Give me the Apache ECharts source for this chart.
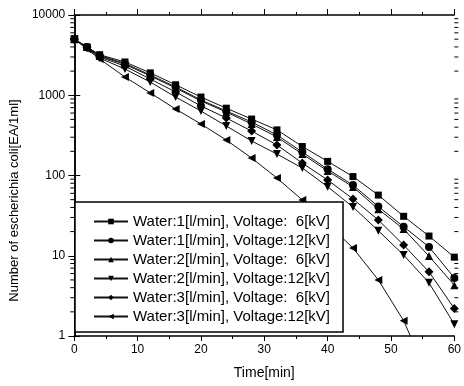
<!DOCTYPE html>
<html>
<head>
<meta charset="utf-8">
<script src="https://cdn.jsdelivr.net/npm/echarts@6/dist/echarts.min.js"></script>
<style>
  html, body { margin: 0; padding: 0; background: #fff; }
  #chart { width: 464px; height: 386px; }
</style>
</head>
<body>
<div id="chart"></div>
<script>
// sampling times [min]
const times = [0, 2, 4, 8, 12, 16, 20, 24, 28, 32, 36, 40, 44, 48, 52, 56, 60];

// colony counts [EA/1ml]
const water1kv6 = [5000, 4000, 3200, 2600, 1900, 1350, 950, 690, 505, 370, 230, 150, 97, 57, 31, 17.6, 9.6];
const water1kv12 = [5000, 4000, 3130, 2490, 1790, 1270, 873, 636, 464, 320, 196, 120, 76, 41, 23, 12.9, 5.3];
const water2kv6 = [5000, 4000, 3080, 2420, 1740, 1230, 848, 618, 438, 302, 185, 114, 72, 38, 21.5, 9.9, 4.3];
const water2kv12 = [5000, 3880, 2910, 2120, 1460, 950, 636, 414, 269, 185, 124, 72.5, 40.5, 20.5, 10.2, 4.6, 1.4];
const water3kv6 = [5000, 3940, 3000, 2310, 1590, 1100, 735, 520, 358, 240, 143, 88, 51, 27.9, 13.6, 6.3, 2.2];
const water3kv12 = [5000, 3770, 2830, 1690, 1070, 674, 438, 277, 165, 93, 49.5, 24.9, 12.5, 5, 1.55, 0.3, null];

const seriesNames = [
  "Water:1[l/min], Voltage:  6[kV]",
  "Water:1[l/min], Voltage:12[kV]",
  "Water:2[l/min], Voltage:  6[kV]",
  "Water:2[l/min], Voltage:12[kV]",
  "Water:3[l/min], Voltage:  6[kV]",
  "Water:3[l/min], Voltage:12[kV]",
];

// minor ticks of the log axis (2..9 in each decade)
const yMinorTicks = [
  2, 3, 4, 5, 6, 7, 8, 9,
  20, 30, 40, 50, 60, 70, 80, 90,
  200, 300, 400, 500, 600, 700, 800, 900,
  2000, 3000, 4000, 5000, 6000, 7000, 8000, 9000,
];

const fontFamily = '"Liberation Sans", Arial, sans-serif';

const markers = [
  { symbol: "rect", rotate: 0, size: 7 },
  { symbol: "circle", rotate: 0, size: 8 },
  { symbol: "triangle", rotate: 0, size: 8 },
  { symbol: "triangle", rotate: 180, size: 8 },
  { symbol: "diamond", rotate: 0, size: 9 },
  { symbol: "triangle", rotate: 90, size: 8 },
];

const values = [water1kv6, water1kv12, water2kv6, water2kv12, water3kv6, water3kv12];

const lineSeries = values.map((vals, i) => ({
  name: seriesNames[i],
  type: "line",
  data: times.map((t, j) => [t, vals[j]]),
  symbol: markers[i].symbol,
  symbolRotate: markers[i].rotate,
  symbolSize: markers[i].size,
  showAllSymbol: true,
  lineStyle: { color: "#111", width: 1 },
  itemStyle: { color: "#000" },
  clip: true,
}));

const minorTickSeries = {
  type: "custom",
  silent: true,
  clip: false,
  z: 5,
  data: yMinorTicks.map((v) => [0, v]),
  encode: { x: 0, y: 1 },
  renderItem: (params, api) => {
    const v = api.value(1);
    const left = api.coord([0, v]);
    const right = api.coord([60, v]);
    const style = { stroke: "#000", lineWidth: 1 };
    return {
      type: "group",
      children: [
        { type: "line", shape: { x1: left[0] - 4, y1: left[1], x2: left[0], y2: left[1] }, style },
        { type: "line", shape: { x1: right[0], y1: right[1], x2: right[0] + 4, y2: right[1] }, style },
      ],
    };
  },
};

const axisLine = { show: true, lineStyle: { color: "#000", width: 1.5 } };

const chart = echarts.init(document.getElementById("chart"), null, { renderer: "canvas" });
chart.setOption({
  animation: false,
  backgroundColor: "#fff",
  grid: { left: 73, right: 6, top: 15, bottom: 50 },
  legend: {
    data: seriesNames,
    orient: "vertical",
    left: 75,
    top: 202,
    padding: [12, 13, 8, 18],
    itemWidth: 34,
    itemHeight: 7,
    itemGap: 4,
    backgroundColor: "#fff",
    borderColor: "#000",
    borderWidth: 1.5,
    selectedMode: false,
    textStyle: { fontFamily, fontSize: 15, color: "#000", lineHeight: 14 },
  },
  xAxis: [
    {
      type: "value",
      min: 0,
      max: 60,
      interval: 10,
      position: "bottom",
      name: "Time[min]",
      nameLocation: "middle",
      nameGap: 30,
      nameTextStyle: { fontFamily, fontSize: 14, color: "#000" },
      axisLine,
      axisTick: { inside: false, length: 5, lineStyle: { color: "#000" } },
      minorTick: { show: true, splitNumber: 2, length: 3, lineStyle: { color: "#000" } },
      axisLabel: { fontFamily, fontSize: 12, color: "#000", margin: 8 },
      splitLine: { show: false },
    },
    {
      type: "value",
      min: 0,
      max: 60,
      interval: 10,
      position: "top",
      axisLine,
      axisTick: { inside: false, length: 6, lineStyle: { color: "#000" } },
      minorTick: { show: true, splitNumber: 2, length: 3, lineStyle: { color: "#000" } },
      axisLabel: { show: false },
      splitLine: { show: false },
    },
  ],
  yAxis: [
    {
      type: "log",
      logBase: 10,
      min: 1,
      max: 10000,
      position: "left",
      name: "Number of escherichia coli[EA/1ml]",
      nameLocation: "middle",
      nameGap: 34,
      nameTextStyle: { fontFamily, fontSize: 13, color: "#000", padding: [0, 50, 0, 0] },
      axisLine,
      axisTick: { inside: false, length: 6, lineStyle: { color: "#000" } },
      axisLabel: { fontFamily, fontSize: 12, color: "#000", margin: 9, formatter: (v) => String(v) },
      splitLine: { show: false },
    },
    {
      type: "log",
      logBase: 10,
      min: 1,
      max: 10000,
      position: "right",
      axisLine,
      axisTick: { inside: false, length: 6, lineStyle: { color: "#000" } },
      axisLabel: { show: false },
      splitLine: { show: false },
    },
  ],
  series: [...lineSeries, minorTickSeries],
});
</script>
</body>
</html>
